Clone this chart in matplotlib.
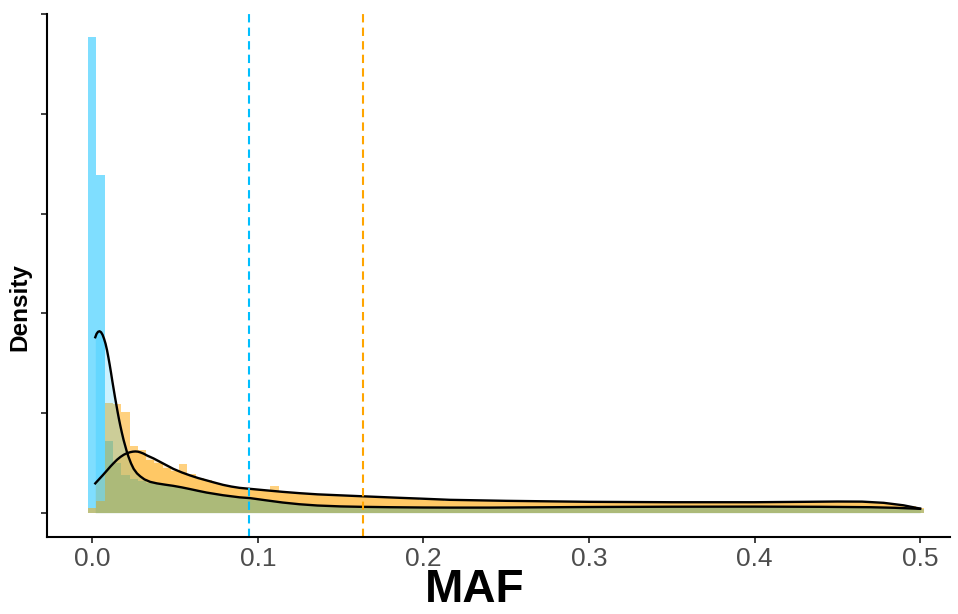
import numpy as np
import matplotlib
matplotlib.use('Agg')
import matplotlib.pyplot as plt

plt.rcParams['font.family'] = ['Liberation Sans', 'DejaVu Sans']

# ---------------- data ----------------
BIN_WIDTH = 0.005
bin_centers = np.round(np.arange(101) * BIN_WIDTH, 3)

# histogram heights (density scale), one per bin
blue_hist = [47.7, 33.9, 7.2, 5.0, 3.8, 3.4, 3.2, 3.0, 2.9, 2.8,
             2.6, 2.5, 2.4, 2.2, 2.0, 1.9, 1.8, 1.7, 1.55, 1.5,
             1.35, 1.2, 1.1, 1.0, 0.95, 0.85, 0.8, 0.75, 0.7, 0.68,
             0.65, 0.62, 0.6, 0.6, 0.58, 0.57, 0.56, 0.55, 0.55, 0.54,
             0.54, 0.53, 0.53, 0.52, 0.52, 0.52, 0.53, 0.53, 0.54, 0.55,
             0.55, 0.56, 0.57, 0.57, 0.58, 0.58, 0.58, 0.59, 0.59, 0.59,
             0.6, 0.6, 0.6, 0.6, 0.6, 0.6, 0.6, 0.6, 0.6, 0.6,
             0.6, 0.6, 0.6, 0.6, 0.6, 0.6, 0.6, 0.6, 0.6, 0.6,
             0.6, 0.6, 0.6, 0.6, 0.6, 0.6, 0.6, 0.6, 0.59, 0.58,
             0.57, 0.56, 0.55, 0.54, 0.53, 0.52, 0.5, 0.48, 0.45, 0.42,
             0.4]
orange_hist = [0.5, 1.2, 11.0, 10.9, 10.1, 6.7, 6.3, 5.3, 5.0, 4.5,
               4.2, 4.9, 3.9, 3.5, 3.3, 3.0, 2.8, 2.6, 2.5, 2.4,
               2.3, 2.2, 2.7, 2.1, 2.0, 1.95, 1.9, 1.85, 1.8, 1.75,
               1.7, 1.68, 1.65, 1.6, 1.55, 1.5, 1.48, 1.45, 1.4, 1.35,
               1.3, 1.28, 1.25, 1.22, 1.2, 1.18, 1.17, 1.16, 1.15, 1.14,
               1.12, 1.1, 1.1, 1.1, 1.08, 1.08, 1.06, 1.06, 1.05, 1.05,
               1.05, 1.04, 1.04, 1.03, 1.03, 1.03, 1.02, 1.02, 1.02, 1.02,
               1.02, 1.02, 1.02, 1.03, 1.03, 1.03, 1.04, 1.04, 1.05, 1.05,
               1.06, 1.07, 1.08, 1.09, 1.1, 1.1, 1.11, 1.12, 1.12, 1.13,
               1.13, 1.13, 1.12, 1.1, 1.08, 1.03, 0.97, 0.9, 0.8, 0.65,
               0.5]

# smoothed density curves
blue_dens_x = [0.0018, 0.0026, 0.0035, 0.0044, 0.0053, 0.0062, 0.0071, 0.008,
               0.0089, 0.0097, 0.0105, 0.0113, 0.0121, 0.0129, 0.0137,
               0.0145, 0.0153, 0.0161, 0.0169, 0.0179, 0.0189, 0.0199,
               0.0209, 0.0219, 0.0234, 0.025, 0.027, 0.029, 0.0315,
               0.035, 0.039, 0.044, 0.049, 0.054, 0.059, 0.064, 0.069,
               0.079, 0.089, 0.0954, 0.105, 0.115, 0.125, 0.136, 0.15,
               0.162, 0.18, 0.2, 0.216, 0.24, 0.26, 0.30, 0.35, 0.40,
               0.44, 0.47, 0.485, 0.5]
blue_dens_y = [17.6, 17.95, 18.15, 18.2, 18.1, 17.85, 17.45, 16.95,
               16.3, 15.6, 14.85, 14.05, 13.2, 12.4, 11.6,
               10.85, 10.1, 9.4, 8.75, 8.0, 7.3, 6.7,
               6.1, 5.6, 4.95, 4.4, 3.95, 3.65, 3.35,
               3.1, 2.95, 2.82, 2.7, 2.55, 2.38, 2.2, 2.03,
               1.76, 1.55, 1.47, 1.25, 1.03, 0.86, 0.73, 0.64,
               0.6, 0.56, 0.53, 0.52, 0.52, 0.54, 0.58, 0.61, 0.62,
               0.6, 0.56, 0.5, 0.4]
orange_dens_x = [0.0018, 0.004, 0.0065, 0.0089, 0.011, 0.013, 0.015, 0.017,
                 0.019, 0.021, 0.023, 0.0245, 0.026, 0.0275, 0.029, 0.031,
                 0.033, 0.037, 0.041, 0.045, 0.049, 0.054, 0.059, 0.064,
                 0.069, 0.074, 0.079, 0.084, 0.089, 0.0954, 0.105, 0.115,
                 0.125, 0.136, 0.15, 0.164, 0.186, 0.2, 0.216, 0.25,
                 0.30, 0.35, 0.40, 0.43, 0.45, 0.465, 0.478, 0.49, 0.5]
orange_dens_y = [2.95, 3.35, 3.8, 4.25, 4.65, 5.0, 5.33, 5.6,
                 5.82, 5.98, 6.08, 6.13, 6.15, 6.13, 6.06, 5.93,
                 5.75, 5.45, 5.1, 4.75, 4.4, 4.05, 3.75, 3.48,
                 3.25, 3.02, 2.8, 2.63, 2.5, 2.4, 2.25, 2.1,
                 1.97, 1.85, 1.75, 1.65, 1.5, 1.41, 1.3, 1.2,
                 1.1, 1.06, 1.06, 1.1, 1.13, 1.12, 1.0, 0.75, 0.42]

mean_blue = 0.0948
mean_orange = 0.1636

x_ticks = [0.0, 0.1, 0.2, 0.3, 0.4, 0.5]
x_ticklabels = ['0.0', '0.1', '0.2', '0.3', '0.4', '0.5']
y_ticks = [0, 10, 20, 30, 40, 50]

BLUE = '#00BFFF'
ORANGE = '#FFA500'

# ---------------- plot ----------------
W, H = 958, 614
fig = plt.figure(figsize=(W / 100, H / 100), dpi=100)
left_px, right_px, top_px, bottom_px = 46.7, 950, 14, 537
ax = fig.add_axes([left_px / W, 1 - bottom_px / H,
                   (right_px - left_px) / W, (bottom_px - top_px) / H])

ax.bar(bin_centers, blue_hist, width=BIN_WIDTH, color=BLUE, alpha=0.5,
       linewidth=0, align='center')
ax.bar(bin_centers, orange_hist, width=BIN_WIDTH, color=ORANGE, alpha=0.5,
       linewidth=0, align='center')

ax.fill_between(blue_dens_x, 0, blue_dens_y, color=BLUE, alpha=0.2, linewidth=0)
ax.fill_between(orange_dens_x, 0, orange_dens_y, color=ORANGE, alpha=0.2, linewidth=0)
ax.plot(blue_dens_x, blue_dens_y, color='black', lw=1.7, solid_joinstyle='round')
ax.plot(orange_dens_x, orange_dens_y, color='black', lw=1.7, solid_joinstyle='round')

ax.axvline(mean_blue, color=BLUE, lw=1.5, dashes=(4, 2.5))
ax.axvline(mean_orange, color=ORANGE, lw=1.5, dashes=(4, 2.5))

ax.set_xlim((left_px - 92.3) / 1655.6, (right_px - 92.3) / 1655.6)
ax.set_ylim(-(bottom_px - 512.8) / 9.975, (512.8 - top_px) / 9.975)

ax.set_xticks(x_ticks)
ax.set_xticklabels(x_ticklabels, fontsize=19, color='#4d4d4d')
ax.set_yticks(y_ticks)
ax.set_yticklabels([])

for side in ['top', 'right']:
    ax.spines[side].set_visible(False)
for side in ['left', 'bottom']:
    ax.spines[side].set_linewidth(1.5)
    ax.spines[side].set_color('black')
ax.tick_params(length=4.5, width=1.3, color='#333333', pad=3)

fig.text(475 / W, 1 - 590 / H, 'MAF', fontsize=33, fontweight='bold',
         ha='center', va='center')
fig.text(20 / W, 1 - 307 / H, 'Density', fontsize=17.5, fontweight='bold',
         ha='center', va='center', rotation=90)

fig.savefig('out.png', dpi=100)
